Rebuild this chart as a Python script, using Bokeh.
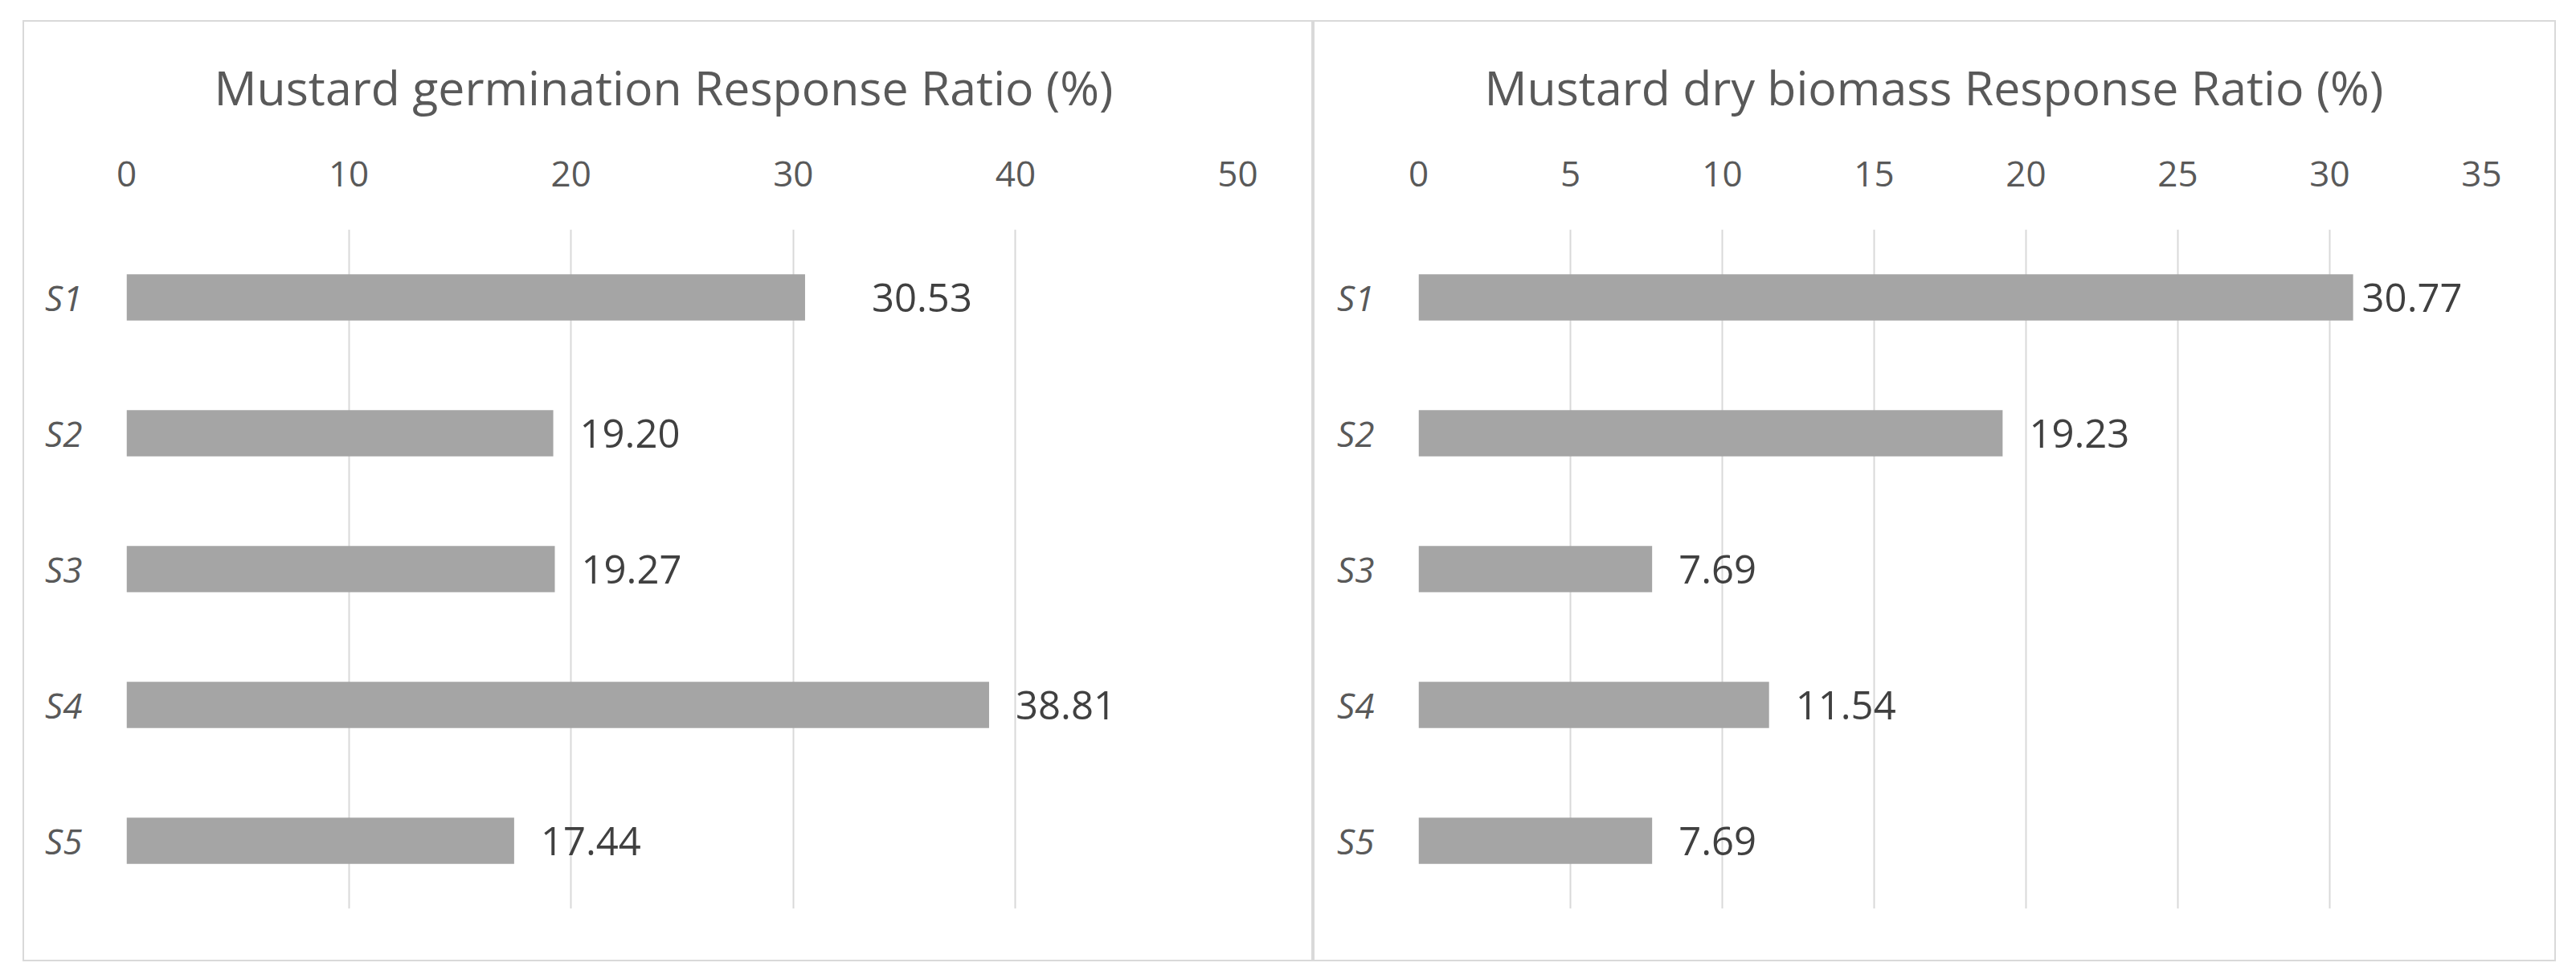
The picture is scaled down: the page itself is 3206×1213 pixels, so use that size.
from bokeh.plotting import figure
from bokeh.models import ColumnDataSource, LabelSet, Range1d, FactorRange, SingleIntervalTicker
from bokeh.core.properties import value
from bokeh.layouts import row
from bokeh.embed import file_html
from bokeh.resources import INLINE

# ---- data ----
categories = ["S1", "S2", "S3", "S4", "S5"]
germination_rr = [30.53, 19.20, 19.27, 38.81, 17.44]
biomass_rr = [30.77, 19.23, 7.69, 11.54, 7.69]
title_germ = "Mustard germination Response Ratio (%)"
title_bio = "Mustard dry biomass Response Ratio (%)"
germ_max, germ_step = 50, 10
bio_max, bio_step = 35, 5

# ---- styling (label nudges in screen pixels) ----
germ_label_offset = [83, 33, 33, 33, 33]
bio_label_offset = [11, 33, 33, 33, 33]

FONT = "Open Sans"
TXT = "#595959"
LBL = "#404040"
BAR = "#A5A5A5"
GRID = "#D9D9D9"
EDGE = "#D9D9D9"

g = f"linear-gradient({EDGE},{EDGE})"
PANEL_BORDER = ", ".join([
    f"{g} left 0 top 10px / 100% 2px no-repeat",
    f"{g} left 0 bottom 0 / 100% 2px no-repeat",
    f"{g} left 0 top 10px / 2px calc(100% - 10px) no-repeat",
    f"{g} right 0 top 10px / 2px calc(100% - 10px) no-repeat",
])


def make_panel(title, vals, offsets, xmax, step, width, left, right, title_offset):
    src = ColumnDataSource(dict(cat=categories, val=vals, off=offsets,
                                lab=[f"{v:.2f}" for v in vals]))
    p = figure(width=width, height=1181,
               y_range=FactorRange(*categories[::-1]),
               x_range=Range1d(0, xmax),
               x_axis_location="above",
               output_backend="svg", toolbar_location=None,
               min_border_left=left, min_border_right=right,
               min_border_top=270, min_border_bottom=66,
               title=title)
    p.styles = {"background": PANEL_BORDER}
    p.border_fill_color = None
    p.background_fill_color = None
    p.outline_line_color = None
    p.hbar(y="cat", right="val", left=0, height=0.34, source=src,
           fill_color=BAR, line_color=None)
    labels = LabelSet(x="val", y="cat", text="lab", source=src,
                      x_offset="off", text_align="left", text_baseline="middle",
                      text_font=value(FONT), text_font_size="49px", text_color=LBL)
    p.add_layout(labels)

    p.title.text_font = FONT
    p.title.text_font_size = "59px"
    p.title.text_font_style = "normal"
    p.title.text_color = TXT
    p.title.align = "left"
    p.title.offset = title_offset
    p.title.standoff = 100

    p.xaxis.ticker = SingleIntervalTicker(interval=step)
    p.xaxis.axis_line_color = None
    p.xaxis.major_tick_line_color = None
    p.xaxis.minor_tick_line_color = None
    p.xaxis.major_label_text_font = FONT
    p.xaxis.major_label_text_font_size = "44px"
    p.xaxis.major_label_text_color = TXT
    p.xaxis.major_label_standoff = 48

    p.yaxis.axis_line_color = None
    p.yaxis.major_tick_line_color = None
    p.yaxis.minor_tick_line_color = None
    p.yaxis.major_label_text_font = FONT
    p.yaxis.major_label_text_font_size = "44px"
    p.yaxis.major_label_text_font_style = "italic"
    p.yaxis.major_label_text_color = TXT
    p.yaxis.major_label_standoff = 49

    p.xgrid.grid_line_color = GRID
    p.xgrid.grid_line_width = 2
    p.ygrid.grid_line_color = None
    return p


p1 = make_panel(title_germ, germination_rr, germ_label_offset, germ_max, germ_step, 1606, 129, 94, 109)
p2 = make_panel(title_bio, biomass_rr, bio_label_offset, bio_max, bio_step, 1547, 131, 93, 82)

layout = row(p1, p2, margin=(15, 0, 0, 28))
open("out.html", "w").write(file_html(layout, INLINE))
